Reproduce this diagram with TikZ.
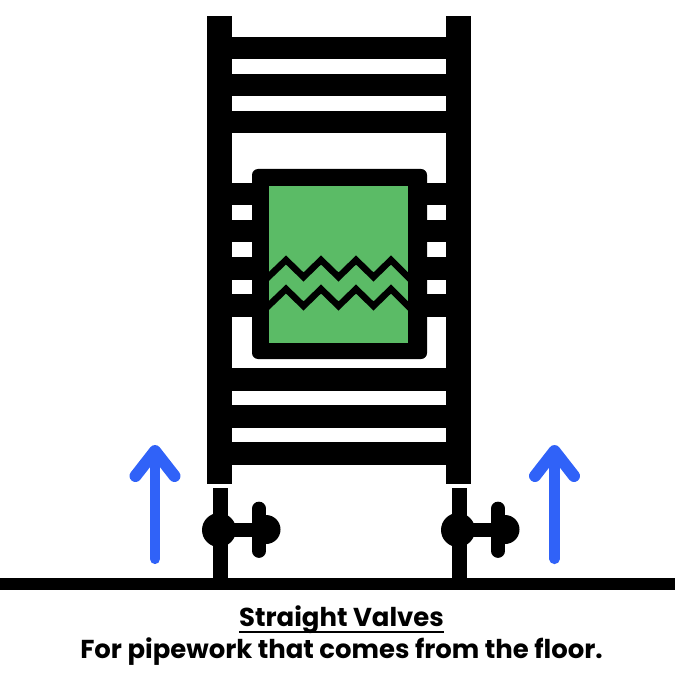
\documentclass[tikz,border=0pt]{standalone}
\usepackage{fontspec}
\setmainfont{Poppins}
\definecolor{towelgreen}{HTML}{5BBB66}
\definecolor{arrowblue}{HTML}{3062F8}
\begin{document}
\begin{tikzpicture}[x=.02cm, y=-.02cm,
    bar/.style={fill=black},
    zigzag/.style={draw=black, line width=3.7pt, miter limit=10},
    stem/.style={draw=black, line width=7.8pt, line cap=round},
    flow/.style={draw=arrowblue, line width=5.8pt, line cap=round, line join=round},
    wing/.style={flow, line width=6.8pt},
    caption/.style={font=\bfseries, anchor=base, inner sep=0pt}]
\useasboundingbox (0,0) rectangle (675,675);
% rails and bars
\fill[bar](207,16) rectangle (232,484);
\fill[bar](446,16) rectangle (471,484);
\foreach \ytop in {37,74,111,183,220,257,294,368,405,442}
    \fill[bar](232,\ytop) rectangle (446,\ytop+22.5);
% towel
\fill[bar, rounded corners=.12cm](252,169) rectangle (427,359);
\fill[towelgreen](269,186) rectangle (408,343);
\foreach \yshift in {0,29}
    \draw[zigzag](262,283+\yshift)--(286,260+\yshift)--(303.5,277+\yshift)--(321,260+\yshift)--(338.5,277+\yshift)--(356,260+\yshift)--(373.5,277+\yshift)--(391,260+\yshift)--(408,277+\yshift)--(415,284+\yshift);
% valves and floor
\foreach \xpipe in {220,459}{
    \fill[bar](\xpipe-7.5,488) rectangle (\xpipe+7.5,580);
    \fill[bar](\xpipe-1,530) circle (17);
    \fill[bar](\xpipe,522.7) rectangle (\xpipe+45,536.7);
    \fill[bar](\xpipe+46,529.5) circle (14.5);
    \draw[stem](\xpipe+39,508.5)--(\xpipe+39,551);
}
\fill[bar](0,577.5) rectangle (675,590);
% arrows
\foreach \xarrow in {155,554.5}{
    \draw[flow](\xarrow,559)--(\xarrow,452);
    \draw[wing](\xarrow-19.5,476)--(\xarrow,451)--(\xarrow+19.5,476);
}
% caption
\node[caption] (title) at (341.5,626.4) {\fontsize{14.75}{18}\selectfont Straight Valves};
\node[caption] (note) at (341.5,658.6) {\fontsize{14.75}{18}\selectfont For pipework that comes from the floor.};
\draw[line width=.9pt]([yshift=-3.3pt]title.base west)--([yshift=-3.3pt]title.base east);
\end{tikzpicture}
\end{document}
